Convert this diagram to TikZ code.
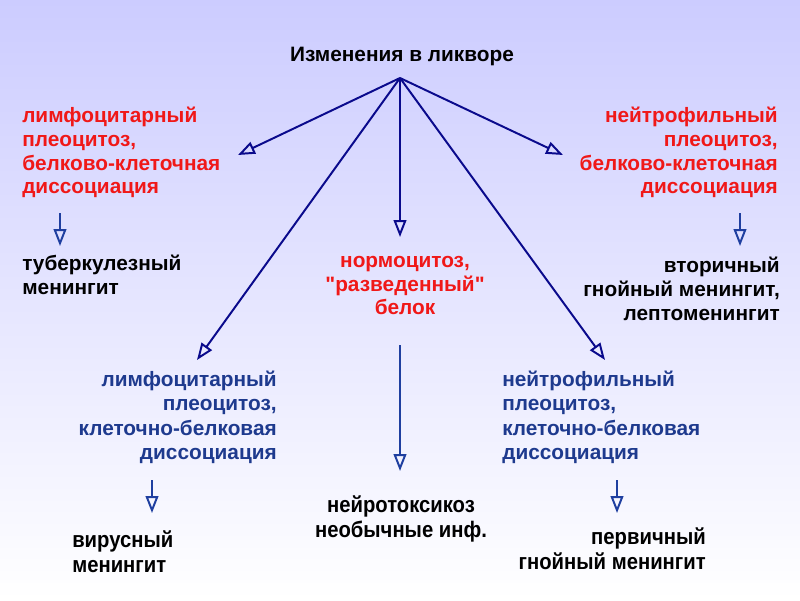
\documentclass[tikz,border=0pt]{standalone}
\usepackage{fontspec}
\setmainfont{Liberation Sans}
\newfontfamily\narrowfont[FakeStretch=0.9]{Liberation Sans}
\usetikzlibrary{arrows.meta,positioning}

\definecolor{bgtop}{HTML}{CCCCFF}
\definecolor{bgbot}{HTML}{FFFFFF}
\definecolor{redtxt}{HTML}{F01818}
\definecolor{bluetxt}{HTML}{1E3A8E}
\definecolor{arrnavy}{HTML}{0A0A8C}
\definecolor{arrblue}{HTML}{1F3FA0}

\tikzset{
  txt/.style={inner sep=0pt,font=\fontsize{14.8}{16.8}\selectfont\bfseries},
  redbox/.style={txt,text=redtxt},
  bluebox/.style={txt,text=bluetxt,font=\fontsize{14.8}{17.2}\selectfont\bfseries},
  narrowbox/.style={inner sep=0pt,font=\fontsize{16}{17.8}\selectfont\narrowfont\bfseries},
  bigarr/.style={draw=arrnavy,line width=1.4pt,-{Triangle[open,length=12pt,width=9pt]}},
  smallarr/.style={draw=arrblue,line width=1.4pt,-{Triangle[open,length=12pt,width=9pt]}}
}

\begin{document}
\begin{tikzpicture}[x=0.025cm,y=-0.025cm]
\useasboundingbox (0,0) rectangle (800,600);
\shade[top color=bgtop,bottom color=bgbot] (0,0) rectangle (800,600);

% top
\node[txt,anchor=north] (title) at (402,47) {Изменения в ликворе};
\coordinate (root) at (400,78);

% red blocks
\node[redbox,anchor=north west,align=left] (lymred) at (22,107)
  {лимфоцитарный\\плеоцитоз,\\белково-клеточная\\диссоциация};
\node[redbox,anchor=north east,align=right] (neured) at (778,107)
  {нейтрофильный\\плеоцитоз,\\белково-клеточная\\диссоциация};
\node[redbox,anchor=north,align=center] (norm) at (405,256)
  {нормоцитоз,\\\textquotedbl разведенный\textquotedbl\\белок};

% blue blocks
\node[bluebox,anchor=north east,align=right] (lymblue) at (277,371)
  {лимфоцитарный\\плеоцитоз,\\клеточно-белковая\\диссоциация};
\node[bluebox,anchor=north west,align=left] (neublue) at (502,371)
  {нейтрофильный\\плеоцитоз,\\клеточно-белковая\\диссоциация};

% results
\node[txt,anchor=north west,align=left] (tub) at (22,255)
  {туберкулезный\\менингит};
\node[txt,anchor=north east,align=right] (sec) at (780,257)
  {вторичный\\гнойный менингит,\\лептоменингит};
\node[narrowbox,anchor=north,align=center] (tox) at (401,495)
  {нейротоксикоз\\необычные инф.};
\node[narrowbox,anchor=north west,align=left] (vir) at (72,530)
  {вирусный\\менингит};
\node[narrowbox,anchor=north east,align=right] (prim) at (706,527)
  {первичный\\гнойный менингит};

% arrow ends
\coordinate (eL) at (238,155);
\coordinate (eR) at (563,155);
\coordinate (eC) at (400,237);
\coordinate (eLL) at (197,360);
\coordinate (eRR) at (605,360);
\coordinate (sL) at (60,213);   \coordinate (tL) at (60,246);
\coordinate (sR) at (740,213);  \coordinate (tR) at (740,246);
\coordinate (sC) at (400,345);  \coordinate (tC) at (400,471);
\coordinate (sLL) at (152,480); \coordinate (tLL) at (152,513);
\coordinate (sRR) at (617,480); \coordinate (tRR) at (617,513);

\foreach \e in {eL,eR,eC,eLL,eRR}
  \draw[bigarr] (root) -- (\e);
\draw[smallarr] (sL) -- (tL);
\draw[smallarr] (sR) -- (tR);
\draw[smallarr] (sC) -- (tC);
\draw[smallarr] (sLL) -- (tLL);
\draw[smallarr] (sRR) -- (tRR);
\end{tikzpicture}
\end{document}
